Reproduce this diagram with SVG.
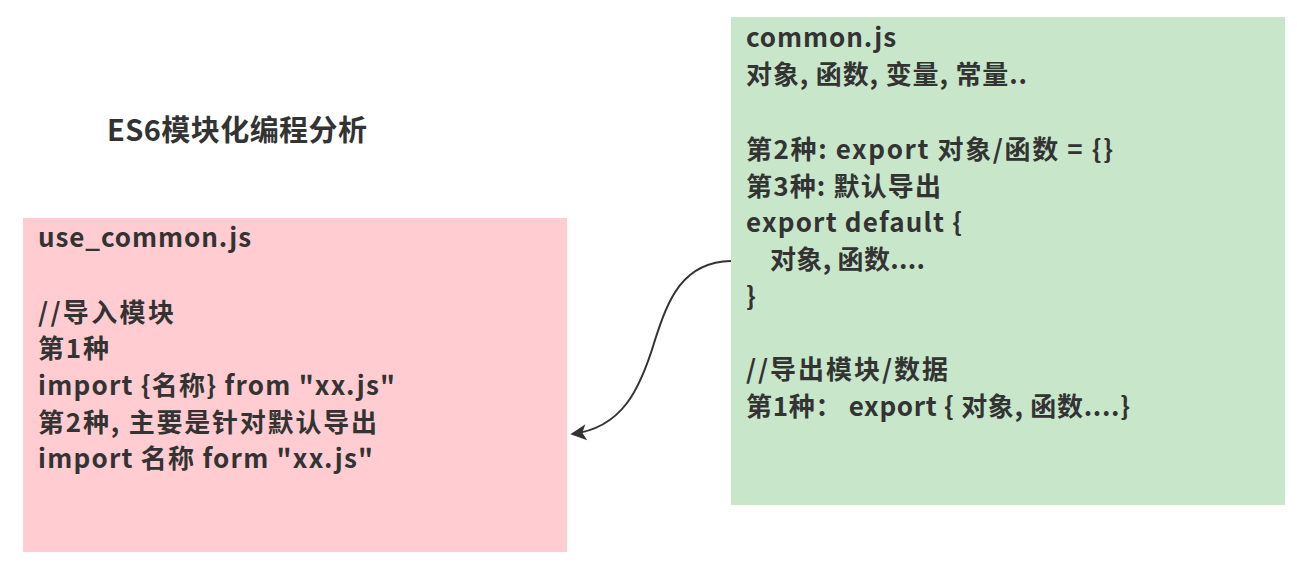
<svg xmlns="http://www.w3.org/2000/svg" width="1297" height="563" viewBox="0 0 1297 563">
<style>
text{font-family:"Noto Sans CJK SC","Noto Sans",sans-serif;font-weight:bold;font-size:26px;fill:#333}
.title{font-size:29px}
.conn{fill:none;stroke:#333;stroke-width:2}
</style>
<defs>
<marker id="ah" viewBox="0 0 10 10" refX="9" refY="5" markerWidth="8" markerHeight="8" markerUnits="userSpaceOnUse" orient="auto" overflow="visible">
<path d="M0,0 L10,5 L0,10 L2.5,5 Z" fill="#333" transform="scale(2) translate(-4.5,-2.5)"/>
</marker>
</defs>
<rect width="1297" height="563" fill="#fff"/>
<g id="title"><text class="title" x="107" y="141" textLength="260">ES6模块化编程分析</text></g>
<g id="use_common">
<rect x="23" y="218" width="544" height="334" fill="#ffccd1"/>
<text x="38" y="247" textLength="213">use_common.js</text>
<text x="38" y="322" textLength="136">//导入模块</text>
<text x="38" y="358" textLength="71">第1种</text>
<text x="38" y="395" textLength="357">import {名称} from "xx.js"</text>
<text x="38" y="432" textLength="339">第2种, 主要是针对默认导出</text>
<text x="38" y="468" textLength="335">import 名称 form "xx.js"</text>
</g>
<g id="common">
<rect x="731" y="17" width="554" height="488" fill="#c8e6ca"/>
<text x="746" y="47" textLength="150">common.js</text>
<text x="746" y="84" textLength="281">对象, 函数, 变量, 常量..</text>
<text x="746" y="159" textLength="367">第2种: export 对象/函数 = {}</text>
<text x="746" y="196" textLength="195">第3种: 默认导出</text>
<text x="746" y="232" textLength="216">export default {</text>
<text x="770" y="269" textLength="155">对象, 函数....</text>
<text x="746" y="306">}</text>
<text x="746" y="379" textLength="202">//导出模块/数据</text>
<text x="746" y="416" textLength="384">第1种： export { 对象, 函数....}</text>
</g>
<g id="connectors">
<path class="conn" d="M731,261 C682,262 668,300 655,340 C640,390 622,428 572,434" marker-end="url(#ah)"/>
</g>
</svg>
